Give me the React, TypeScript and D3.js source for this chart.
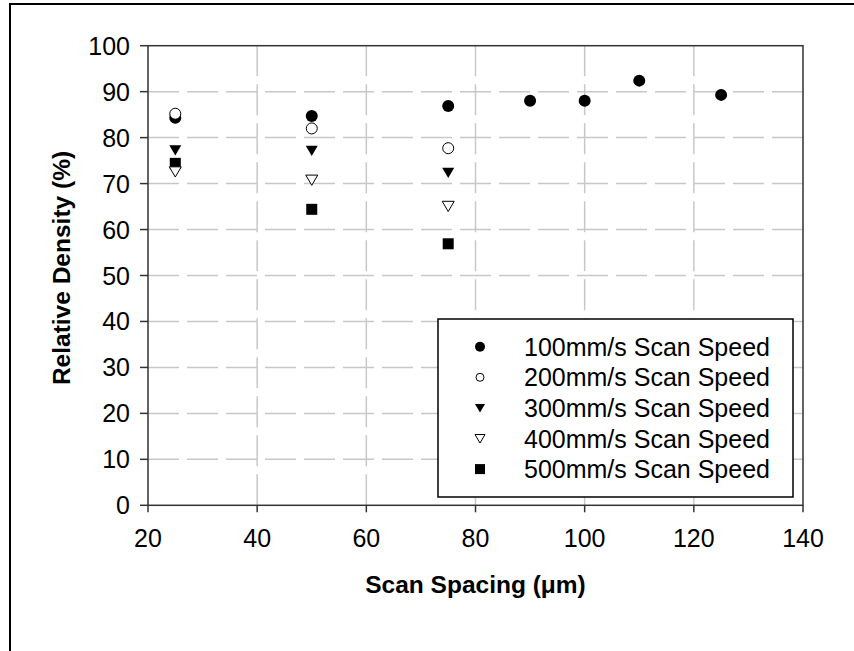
import React from 'react';
import * as d3 from 'd3';

const xTicks = [20, 40, 60, 80, 100, 120, 140];
const yTicks = [0, 10, 20, 30, 40, 50, 60, 70, 80, 90, 100];

const spacing100 = [25, 50, 75, 90, 100, 110, 125];
const density100 = [84.3, 84.7, 86.9, 88.0, 88.0, 92.4, 89.3];
const spacingOther = [25, 50, 75];
const density200 = [85.2, 82.0, 77.7];
const density300 = [77.3, 77.2, 72.4];
const density400 = [72.6, 70.8, 65.1];
const density500 = [74.4, 64.4, 56.9];

const seriesNames = [
  '100mm/s Scan Speed',
  '200mm/s Scan Speed',
  '300mm/s Scan Speed',
  '400mm/s Scan Speed',
  '500mm/s Scan Speed',
];

const FONT = 'Liberation Sans, Arial, sans-serif';

// marker drawn centered on 0,0
const Marker = ({ kind, s }: { kind: number; s: number }) => {
  const r = s / 2;
  if (kind === 0) return <circle r={r} fill="#000" />;
  if (kind === 1) return <circle r={r - 0.5} fill="#fff" stroke="#000" strokeWidth={1} />;
  const tri = `M${-r},${-r * 0.8}L${r},${-r * 0.8}L0,${r * 0.9}Z`;
  if (kind === 2) return <path d={tri} fill="#000" />;
  if (kind === 3) return <path d={tri} fill="#fff" stroke="#000" strokeWidth={1} />;
  return <rect x={-r} y={-r} width={s} height={s} fill="#000" />;
};

const App = () => {
  const width = 854, height = 651;
  const x = d3.scaleLinear().domain([20, 140]).range([148, 803]);
  const y = d3.scaleLinear().domain([0, 100]).range([505.3, 45.7]);

  const series = [
    { xs: spacing100, ys: density100 },
    { xs: spacingOther, ys: density200 },
    { xs: spacingOther, ys: density300 },
    { xs: spacingOther, ys: density400 },
    { xs: spacingOther, ys: density500 },
  ];
  // draw order so the filled circle at 25 sits under the open one like the original
  const order = [4, 3, 2, 0, 1];

  const [x0, x1] = x.range();
  const [yb, yt] = y.range();

  return (
    <svg width={width} height={height} style={{ display: 'block', position: 'absolute', left: 0, top: 0 }}
      fontFamily={FONT}>
      <rect x={0} y={0} width={width} height={height} fill="#fff" />
      <rect x={10} y={4} width={1000} height={1000} fill="none" stroke="#000" strokeWidth={2} />

      {/* grid */}
      <g stroke="#c8c8c8" strokeWidth={1.5} strokeDasharray="31,8">
        {yTicks.slice(1, -1).map(t => (
          <line key={'h' + t} x1={x0} x2={x1} y1={y(t)} y2={y(t)} />
        ))}
        {xTicks.slice(1, -1).map(t => (
          <line key={'v' + t} x1={x(t)} x2={x(t)} y1={yb} y2={yt} />
        ))}
      </g>

      {/* frame + axes */}
      <rect x={x0} y={yt} width={x1 - x0} height={yb - yt} fill="none" stroke="#333" strokeWidth={1.5} />
      <g stroke="#333" strokeWidth={1.5}>
        {yTicks.map(t => <line key={'yt' + t} x1={x0 - 8} x2={x0} y1={y(t)} y2={y(t)} />)}
        {xTicks.map(t => <line key={'xt' + t} x1={x(t)} x2={x(t)} y1={yb} y2={yb + 7} />)}
      </g>
      <g fontSize={25} fill="#000">
        {yTicks.map(t => (
          <text key={'yl' + t} x={130} y={y(t)} dy="0.36em" textAnchor="end">{t}</text>
        ))}
        {xTicks.map(t => (
          <text key={'xl' + t} x={x(t)} y={547} textAnchor="middle">{t}</text>
        ))}
      </g>
      <text x={(x0 + x1) / 2} y={593} textAnchor="middle" fontSize={24.5} fontWeight="bold">Scan Spacing (μm)</text>
      <text transform={`translate(70,268) rotate(-90)`} textAnchor="middle" fontSize={24.5} fontWeight="bold">Relative Density (%)</text>

      {/* points */}
      {order.map(k => (
        <g key={'s' + k}>
          {series[k].xs.map((xv, i) => (
            <g key={i} transform={`translate(${x(xv)},${y(series[k].ys[i])})`}>
              <Marker kind={k} s={k === 4 ? 11 : 12} />
            </g>
          ))}
        </g>
      ))}

      {/* legend */}
      <g>
        <rect x={438} y={319} width={355} height={178} fill="#fff" stroke="#000" strokeWidth={1.5} />
        {seriesNames.map((name, i) => (
          <g key={name} transform={`translate(0,${346.7 + i * 30.6})`}>
            <g transform="translate(480,0)"><Marker kind={i} s={i === 1 ? 9 : 10} /></g>
            <text x={524} y={0} dy="0.36em" fontSize={25}>{name}</text>
          </g>
        ))}
      </g>
    </svg>
  );
};

export default App;
